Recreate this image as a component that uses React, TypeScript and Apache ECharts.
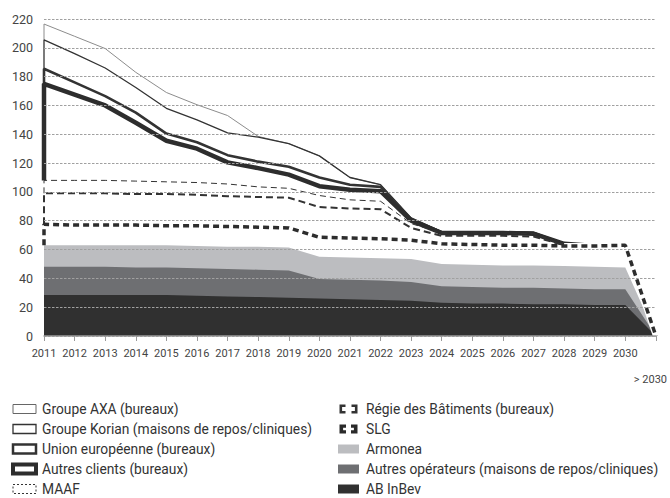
import React, { useEffect, useRef } from 'react';
import * as echarts from 'echarts';

// Years on the x axis (the last position stands for "> 2030")
const years = [2011, 2012, 2013, 2014, 2015, 2016, 2017, 2018, 2019, 2020, 2021, 2022, 2023, 2024, 2025, 2026, 2027, 2028, 2029, 2030, 2031];
const yearLabels = ['2011', '2012', '2013', '2014', '2015', '2016', '2017', '2018', '2019', '2020', '2021', '2022', '2023', '2024', '2025', '2026', '2027', '2028', '2029', '2030', '> 2030'];

// Cumulative levels (top edge of each tenant band)
const abInBev = [28.5, 28.5, 28.5, 28.5, 28.5, 28, 27.5, 27, 26.5, 26, 25.5, 25, 24.5, 23, 22.5, 22.5, 22, 22, 21.5, 21.5, 0];
const autresOperateurs = [48, 48, 48, 47.5, 47.5, 47, 46.5, 46, 45.5, 39.5, 39, 38.5, 37.5, 34.5, 34, 33.5, 33.5, 33, 32.5, 32.5, 0];
const armonea = [63, 63, 63, 63, 63, 62.5, 62, 62, 61.5, 55, 54.5, 54, 53.5, 50, 49.5, 49, 49, 48.5, 48, 47.5, 0];
const slg = [77.5, 77, 77, 77, 76.5, 76.5, 76, 75.5, 75, 68.5, 68, 67.5, 66.5, 64, 63.5, 63, 63, 62.5, 62.5, 63, 0];
const regie = [99, 99, 99, 98.5, 98.5, 98, 97, 96.5, 96, 89.5, 88.5, 88, 75, 69.5, 69.5, 69.5, 69, 63, 62.5, 63, 0];
const maaf = [108, 108, 108, 107.5, 107, 106.5, 105.5, 103.5, 102.5, 97.5, 94.5, 93.5, 78, 71.5, 71.5, 71.5, 71, 63.5, 62.5, 63, 0];
const autresClients = [175, 167.5, 160, 148, 135.5, 130, 120.5, 116.5, 112, 104, 101.5, 100.5, 80, 71.5, 71.5, 71.5, 71, 64, 62.5, 63, 0];
const unionEuropeenne = [185.5, 176, 166.5, 155, 140.5, 134.5, 125.5, 121, 117.5, 110, 105, 103.5, 81, 72, 72, 72, 71.5, 64, 62.5, 63, 0];
const groupeKorian = [205.5, 196, 186, 172.5, 158, 150, 141, 138, 133.5, 125, 110, 105, 82, 72.5, 72.5, 72.5, 72, 64, 62.5, 63, 0];
const groupeAXA = [216.5, 208, 199.5, 183, 169, 160.5, 153, 138.5, 133.5, 125, 110, 105, 82, 72.5, 72.5, 72.5, 72, 64, 62.5, 63, 0];

const yMin = 0;
const yMax = 220;
const yStep = 20;

const FONT = 'Roboto, "DejaVu Sans", sans-serif';
const DARK = '#333333';
const LIGHT_GRAY = '#bcbdc0';
const MID_GRAY = '#6e6f72';
const DARK_FILL = '#303030';

const BRACKETS_THIN = 'path://M0 0H6V2.4H2.6V6.6H6V9H0Z M12 0H18V9H12V6.6H15.4V2.4H12Z';
const BRACKETS_BOLD = 'path://M0 0H6.5V3.2H3.6V5.8H6.5V9H0Z M11.5 0H18V9H11.5V5.8H14.4V3.2H11.5Z';

const pts = (levels: number[]) => years.map((y, i) => [y, levels[i]]);
// line with the left vertical edge of the band (from the level below at the first year)
const band = (levels: number[], below: number[]) => [[years[0], below[0]], ...pts(levels)];

export default function App() {
  const ref = useRef<HTMLDivElement>(null);

  useEffect(() => {
    if (!ref.current) return;
    const chart = echarts.init(ref.current, null, { renderer: 'svg' });

    const lineSeries = (name: string, data: number[][], lineStyle: any) => ({
      name,
      type: 'line',
      data,
      symbol: 'none',
      showSymbol: false,
      silent: true,
      lineStyle: { color: DARK, ...lineStyle },
      itemStyle: { color: lineStyle.color || DARK },
      z: 3,
    });

    const areaSeries = (name: string, levels: number[], color: string) => ({
      name,
      type: 'line',
      data: pts(levels),
      symbol: 'none',
      showSymbol: false,
      silent: true,
      lineStyle: { width: 0, color },
      itemStyle: { color },
      areaStyle: { color, opacity: 1 },
      z: 2,
    });

    const legendText = { fontFamily: FONT, fontSize: 13.8, color: '#333', lineHeight: 14 };

    chart.setOption({
      animation: false,
      backgroundColor: '#ffffff',
      textStyle: { fontFamily: FONT },
      grid: { left: 44, right: 14, top: 19, bottom: 162 },
      xAxis: {
        type: 'value',
        min: years[0],
        max: years[years.length - 1],
        interval: 1,
        z: 10,
        axisLine: { show: true, lineStyle: { color: '#9a9a9a', width: 1.5 } },
        axisTick: { show: true, length: 5, lineStyle: { color: '#9a9a9a', width: 1 } },
        splitLine: { show: false },
        axisLabel: {
          margin: 12,
          fontSize: 11,
          color: '#444',
          fontFamily: FONT,
          formatter: (v: number) => {
            const i = years.indexOf(Math.round(v));
            if (i < 0) return '';
            return i === years.length - 1 ? `{gt|${yearLabels[i]}}` : yearLabels[i];
          },
          rich: {
            gt: { fontSize: 11, color: '#444', fontFamily: FONT, padding: [26, 11, 0, 0] },
          },
        },
      },
      yAxis: {
        type: 'value',
        min: yMin,
        max: yMax,
        interval: yStep,
        z: 10,
        axisLine: { show: false },
        axisTick: { show: false },
        axisLabel: { fontSize: 12.5, color: '#444', margin: 11, fontFamily: FONT },
        splitLine: { show: true, lineStyle: { color: '#a0a0a0', width: 1, type: [2.5, 1.5] } },
      },
      legend: [
        {
          orient: 'vertical',
          left: 11,
          top: 402,
          padding: 0,
          itemWidth: 23,
          itemHeight: 9,
          itemGap: 6,
          icon: 'rect',
          selectedMode: false,
          textStyle: { ...legendText, padding: [0, 0, 0, 1] },
          data: [
            { name: 'Groupe AXA (bureaux)', itemStyle: { color: '#ffffff', borderColor: '#666', borderWidth: 1 } },
            { name: 'Groupe Korian (maisons de repos/cliniques)', itemStyle: { color: '#ffffff', borderColor: '#333', borderWidth: 1.3 } },
            { name: 'Union européenne (bureaux)', itemStyle: { color: '#ffffff', borderColor: '#333', borderWidth: 2.5 } },
            { name: 'Autres clients (bureaux)', itemStyle: { color: '#ffffff', borderColor: '#2d2d2d', borderWidth: 4 } },
            { name: 'MAAF', itemStyle: { color: '#ffffff', borderColor: '#333', borderWidth: 1, borderType: [2, 2] } },
          ],
        },
        {
          orient: 'vertical',
          left: 338,
          top: 402,
          padding: 0,
          itemWidth: 21,
          itemHeight: 9,
          itemGap: 6,
          icon: 'rect',
          selectedMode: false,
          textStyle: { ...legendText, padding: [0, 0, 0, 2] },
          data: [
            { name: 'Régie des Bâtiments (bureaux)', icon: BRACKETS_THIN, itemStyle: { color: '#333', borderWidth: 0 } },
            { name: 'SLG', icon: BRACKETS_BOLD, itemStyle: { color: '#2a2a2a', borderWidth: 0 } },
            { name: 'Armonea', itemStyle: { color: LIGHT_GRAY, borderWidth: 0 } },
            { name: 'Autres opérateurs (maisons de repos/cliniques)', itemStyle: { color: MID_GRAY, borderWidth: 0 } },
            { name: 'AB InBev', itemStyle: { color: DARK_FILL, borderWidth: 0 } },
          ],
        },
      ],
      series: [
        areaSeries('Armonea', armonea, LIGHT_GRAY),
        areaSeries('Autres opérateurs (maisons de repos/cliniques)', autresOperateurs, MID_GRAY),
        areaSeries('AB InBev', abInBev, DARK_FILL),
        lineSeries('Groupe AXA (bureaux)', band(groupeAXA, groupeKorian), { color: '#8c8c8c', width: 1 }),
        lineSeries('Groupe Korian (maisons de repos/cliniques)', band(groupeKorian, unionEuropeenne), { color: '#333', width: 1.3 }),
        lineSeries('Union européenne (bureaux)', band(unionEuropeenne, autresClients), { color: '#333', width: 2.6 }),
        lineSeries('Autres clients (bureaux)', band(autresClients, maaf), { color: '#2d2d2d', width: 4.5 }),
        lineSeries('MAAF', band(maaf, regie), { color: '#333', width: 1, type: [6, 4] }),
        lineSeries('Régie des Bâtiments (bureaux)', band(regie, slg), { color: '#333', width: 2, type: [7, 4] }),
        // white halo under the SLG dashes where all bands meet at the end
        lineSeries('slg-halo', pts(slg).slice(-4), { color: '#ffffff', width: 6 }),
        lineSeries('SLG', band(slg, armonea), { color: '#2d2d2d', width: 3.5, type: [6, 4] }),
      ],
    });

    return () => chart.dispose();
  }, []);

  return (
    <div
      ref={ref}
      style={{ position: 'fixed', left: 0, top: 0, width: 670, height: 498, background: '#fff' }}
    />
  );
}
